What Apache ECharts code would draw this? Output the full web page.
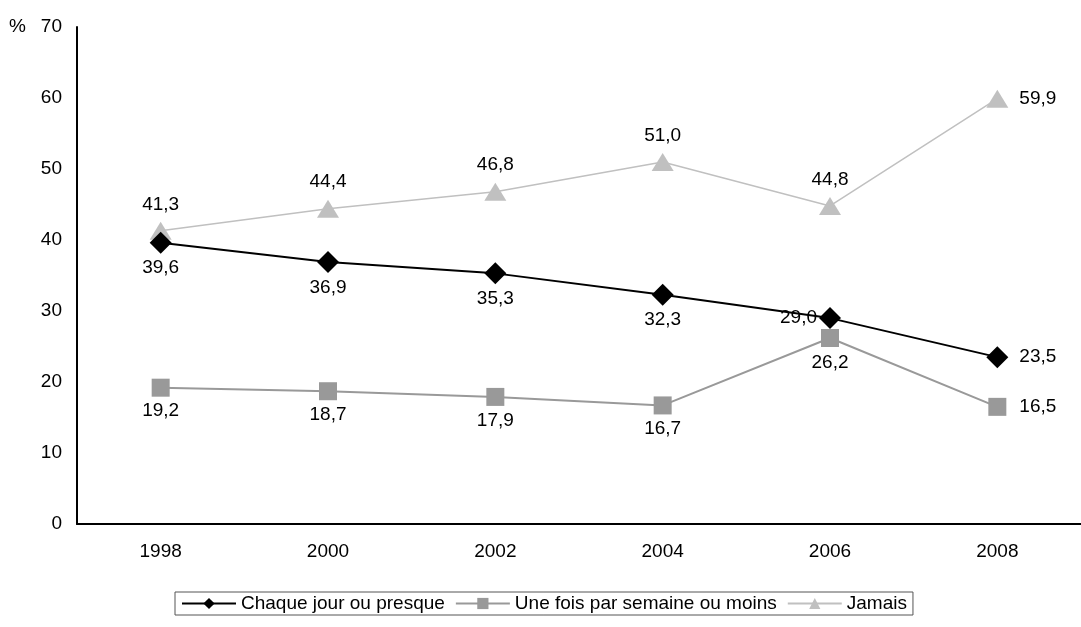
<!DOCTYPE html>
<html>
<head>
<meta charset="utf-8">
<script src="https://cdn.jsdelivr.net/npm/echarts@6/dist/echarts.min.js"></script>
<style>
  html, body { margin: 0; padding: 0; background: #fff; }
  #chart { width: 1081px; height: 627px; }
</style>
</head>
<body>
<div id="chart"></div>
<script>
// Survey years
const years = ['1998', '2000', '2002', '2004', '2006', '2008'];

// Share of respondents (%) per frequency
const chaqueJour = [39.6, 36.9, 35.3, 32.3, 29.0, 23.5];
const uneFois = [19.2, 18.7, 17.9, 16.7, 26.2, 16.5];
const jamais = [41.3, 44.4, 46.8, 51.0, 44.8, 59.9];

const seriesNames = ['Chaque jour ou presque', 'Une fois par semaine ou moins', 'Jamais'];

const FONT = 'Liberation Sans, Arial, sans-serif';
const FS = 19;

const fmt = v => v.toFixed(1).replace('.', ',');

// Per-point label placement: [position, distance]
function points(values, placements) {
  return values.map((v, i) => ({
    value: v,
    label: { position: placements[i][0], distance: placements[i][1] }
  }));
}

const chart = echarts.init(document.getElementById('chart'), null, { renderer: 'canvas' });

const labelBase = {
  show: true,
  color: '#000',
  fontFamily: FONT,
  fontSize: FS,
  formatter: p => fmt(p.value)
};

chart.setOption({
  animation: false,
  backgroundColor: '#fff',
  grid: { left: 77, right: 0, top: 27, bottom: 103 },
  graphic: [{
    type: 'text', left: 9, top: 17,
    style: { text: '%', font: FS + 'px ' + FONT, fill: '#000' }
  }],
  legend: {
    data: seriesNames,
    bottom: 12,
    left: 175,
    itemWidth: 54,
    itemHeight: 14,
    itemGap: 10,
    padding: [2, 6, 2, 6],
    borderColor: '#555',
    borderWidth: 1,
    borderRadius: 0,
    textStyle: { fontFamily: FONT, fontSize: FS, color: '#000', padding: [0, 0, 0, 0] }
  },
  xAxis: {
    type: 'category',
    data: years,
    boundaryGap: true,
    axisLine: { lineStyle: { color: '#000', width: 2 } },
    axisTick: { show: false },
    axisLabel: { color: '#000', fontFamily: FONT, fontSize: FS, margin: 18 }
  },
  yAxis: {
    type: 'value',
    min: 0, max: 70, interval: 10,
    axisLine: { show: true, lineStyle: { color: '#000', width: 2 } },
    axisTick: { show: false },
    splitLine: { show: false },
    axisLabel: { color: '#000', fontFamily: FONT, fontSize: FS, margin: 15 }
  },
  series: [
    {
      name: seriesNames[0],
      type: 'line',
      data: points(chaqueJour, [['bottom', 4], ['bottom', 5], ['bottom', 5], ['bottom', 5], ['left', 2], ['right', 11]]),
      symbol: 'diamond',
      symbolSize: 22,
      color: '#000',
      lineStyle: { color: '#000', width: 2 },
      itemStyle: { color: '#000' },
      label: labelBase,
      z: 3
    },
    {
      name: seriesNames[1],
      type: 'line',
      data: points(uneFois, [['bottom', 5], ['bottom', 5], ['bottom', 5], ['bottom', 5], ['bottom', 6], ['right', 13]]),
      symbol: 'rect',
      symbolSize: 18,
      color: '#999',
      lineStyle: { color: '#999', width: 2 },
      itemStyle: { color: '#999' },
      label: labelBase,
      z: 2
    },
    {
      name: seriesNames[2],
      type: 'line',
      data: points(jamais, [['top', 8], ['top', 8], ['top', 8], ['top', 8], ['top', 8], ['right', 11]]),
      symbol: 'triangle',
      symbolSize: [22, 18],
      color: '#c0c0c0',
      lineStyle: { color: '#c0c0c0', width: 1.5 },
      itemStyle: { color: '#c0c0c0' },
      label: labelBase,
      z: 2
    }
  ]
});
</script>
</body>
</html>
